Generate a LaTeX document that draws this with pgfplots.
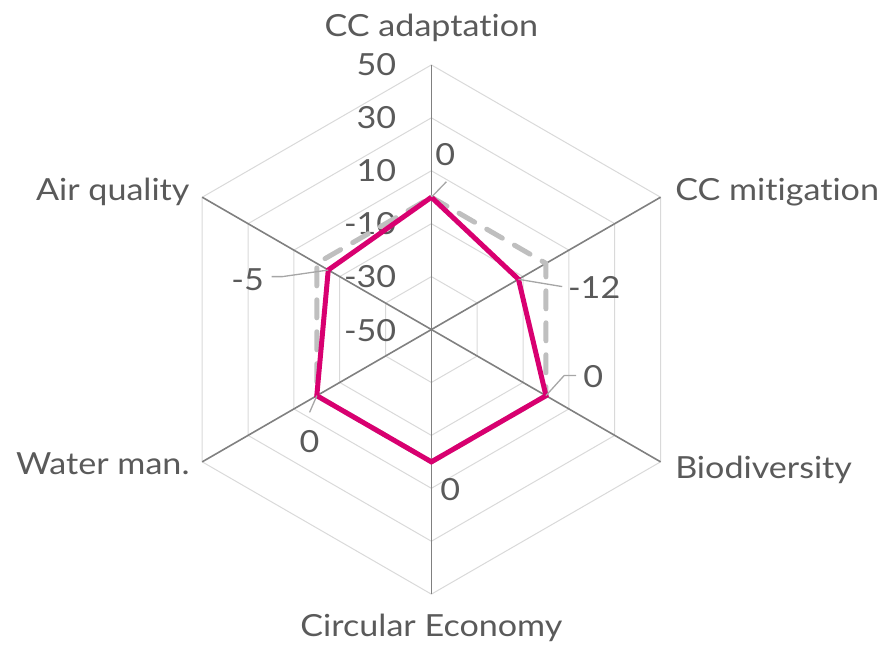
\documentclass[border=0pt]{standalone}
\usepackage{pgfplots}
\pgfplotsset{compat=1.18}
\usepackage{pgfplotstable}
\usepackage{fontspec}
\setmainfont{Lato}[FakeStretch=1.12, Ligatures=NoCommon]
\definecolor{txt}{HTML}{5A5A5A}
\definecolor{mag}{HTML}{D80070}
\definecolor{dgray}{HTML}{BFBFBF}
\definecolor{spoke}{HTML}{808080}
\definecolor{gridc}{HTML}{D9D9D9}
\definecolor{lead}{HTML}{A6A6A6}

\pgfplotstableread{
a v
90 0
30 -12
-30 0
-90 0
210 0
150 -5
90 0
}\actual
\pgfplotstableread{
a v
90 0
30 0
-30 0
-90 0
210 0
150 0
90 0
}\target

\begin{document}
\begin{tikzpicture}[font=\fontsize{30.5}{36}\selectfont, every node/.style={text=txt, inner sep=0pt}]
\begin{axis}[x=1pt, y=1pt, hide axis, xmin=-432, xmax=447, ymin=-327, ymax=330, clip=false, scale only axis]
\path (axis cs:-432,-327) rectangle (axis cs:447,330);
% grid hexagons
\pgfplotsinvokeforeach{53,106,159,212,265}{
  \draw[gridc, line width=1pt] (axis cs:0,#1) -- (axis cs:{#1*0.8660254},{#1*0.5}) -- (axis cs:{#1*0.8660254},{-#1*0.5}) -- (axis cs:0,-#1) -- (axis cs:{-#1*0.8660254},{-#1*0.5}) -- (axis cs:{-#1*0.8660254},{#1*0.5}) -- cycle;
}
% spokes
\draw[spoke, line width=1.6pt] (axis cs:0,0) -- (axis cs:0,265);
\draw[spoke, line width=1.6pt] (axis cs:0,0) -- (axis cs:229.5,132.5);
\draw[spoke, line width=1.6pt] (axis cs:0,0) -- (axis cs:229.5,-132.5);
\draw[spoke, line width=1.6pt] (axis cs:0,0) -- (axis cs:0,-265);
\draw[spoke, line width=1.6pt] (axis cs:0,0) -- (axis cs:-229.5,-132.5);
\draw[spoke, line width=1.6pt] (axis cs:0,0) -- (axis cs:-229.5,132.5);
% tick labels
\node[anchor=east] at (axis cs:-35,265) {50};
\node[anchor=east] at (axis cs:-35,212) {30};
\node[anchor=east] at (axis cs:-35,159) {10};
\node[anchor=east] at (axis cs:-35,106) {-10};
\node[anchor=east] at (axis cs:-35,53) {-30};
\node[anchor=east] at (axis cs:-35,-1) {-50};
% series
\addplot[dgray, line width=5pt, dash pattern=on 18pt off 14pt, line cap=round, line join=round, no marks]
  table[x expr={(\thisrow{v}+50)*2.65*cos(\thisrow{a})}, y expr={(\thisrow{v}+50)*2.65*sin(\thisrow{a})}] {\target};
\addplot[mag, line width=5pt, line join=miter, no marks]
  table[x expr={(\thisrow{v}+50)*2.65*cos(\thisrow{a})}, y expr={(\thisrow{v}+50)*2.65*sin(\thisrow{a})}] {\actual};
% leader lines
\draw[lead, line width=1.3pt] (axis cs:0.5,133) -- (axis cs:15,148);
\draw[lead, line width=1.3pt] (axis cs:87.2,50.3) -- (axis cs:131,43);
\draw[lead, line width=1.3pt] (axis cs:114.7,-66.2) -- (axis cs:133,-46) -- (axis cs:145,-46);
\draw[lead, line width=1.3pt] (axis cs:-114.7,-66.2) -- (axis cs:-122,-83);
\draw[lead, line width=1.3pt] (axis cs:-103.3,59.6) -- (axis cs:-149,53) -- (axis cs:-160,53);
% data labels
\node at (axis cs:14,175) {0};
\node at (axis cs:163,42) {-12};
\node at (axis cs:162,-47) {0};
\node at (axis cs:19,-160) {0};
\node at (axis cs:-122,-112) {0};
\node at (axis cs:-184,50) {-5};
% category labels
\node[anchor=base] at (axis cs:0,293) {CC adaptation};
\node[anchor=base west] at (axis cs:244,129) {CC mitigation};
\node[anchor=base west] at (axis cs:244,-149) {Biodiversity};
\node[anchor=base] at (axis cs:0,-307) {Circular Economy};
\node[anchor=base east] at (axis cs:-242,-145) {Water man.};
\node[anchor=base east] at (axis cs:-242,129) {Air quality};
\end{axis}
\end{tikzpicture}
\end{document}
